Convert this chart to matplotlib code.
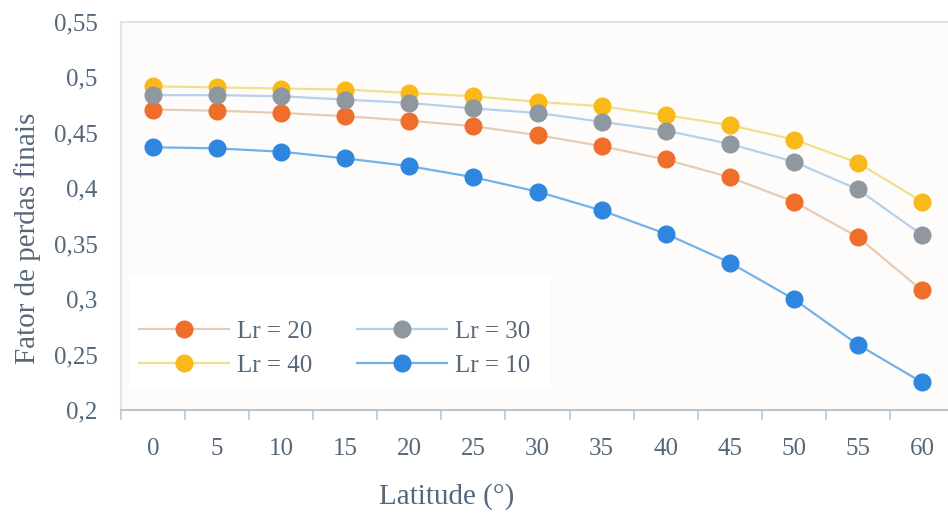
import numpy as np
import matplotlib.pyplot as plt
from matplotlib.patches import Rectangle

# latitude categories and loss factor series for each Lr
latitudes = ['0', '5', '10', '15', '20', '25', '30', '35', '40', '45', '50', '55', '60']
lr10 = [0.437, 0.436, 0.433, 0.427, 0.420, 0.410, 0.397, 0.380, 0.359, 0.333, 0.300, 0.259, 0.225]
lr20 = [0.471, 0.470, 0.468, 0.465, 0.461, 0.456, 0.448, 0.438, 0.426, 0.410, 0.388, 0.356, 0.308]
lr30 = [0.484, 0.484, 0.483, 0.480, 0.477, 0.472, 0.468, 0.460, 0.452, 0.440, 0.424, 0.399, 0.358]
lr40 = [0.492, 0.491, 0.490, 0.489, 0.486, 0.483, 0.478, 0.474, 0.466, 0.457, 0.444, 0.423, 0.388]

txt = '#55677a'
serif = ['Liberation Serif', 'DejaVu Serif']
plt.rcParams['font.family'] = serif

fig = plt.figure(figsize=(9.48, 5.16), dpi=100)
ax = fig.add_axes([121 / 948, 1 - 410 / 516, 833 / 948, 388 / 516])
ax.set_facecolor('#fefcfb')

x = np.arange(len(latitudes))
series = [
    ('Lr = 20', lr20, '#ee6e2a', '#e6cbb5'),
    ('Lr = 40', lr40, '#f9b919', '#eee08c'),
    ('Lr = 30', lr30, '#8f979f', '#b5d0ea'),
    ('Lr = 10', lr10, '#2e86de', '#72b2ea'),
]
for name, vals, mc, lc in series:
    ax.plot(x, vals, color=lc, lw=1.6, marker='o', ms=12,
            markerfacecolor=mc, markeredgecolor=mc, label=name)

ax.set_xlim(-0.5, len(latitudes) - 0.5)
ax.set_ylim(0.2, 0.55)
ax.set_xticks(x)
ax.set_xticklabels(latitudes)
ax.set_xticks(np.arange(len(latitudes) + 1) - 0.5, minor=True)
yt = np.arange(0.2, 0.5501, 0.05)
ax.set_yticks(yt)
ax.set_yticklabels(['0,2', '0,25', '0,3', '0,35', '0,4', '0,45', '0,5', '0,55'])
ax.tick_params(axis='y', length=0, labelsize=18, labelcolor=txt, pad=17)
ax.tick_params(axis='x', which='major', length=0, labelsize=18, labelcolor=txt, pad=20)
ax.tick_params(axis='x', which='minor', length=7, color='#b9c6d2', width=1.2)

for s in ['top', 'left', 'right']:
    ax.spines[s].set_color('#dde4ea')
    ax.spines[s].set_linewidth(1.5)
ax.spines['bottom'].set_color('#b9c6d2')
ax.spines['bottom'].set_linewidth(1.5)

fig.text(28 / 948, 1 - 238 / 516, 'Fator de perdas finais', fontsize=21,
         color=txt, family=serif, rotation=90, ha='center', va='center')
fig.text(447 / 948, 1 - 497 / 516, 'Latitude (°)', fontsize=21, color=txt,
         family=serif, ha='center', va='center')

# white panel behind the legend
ax.add_patch(Rectangle((0.011, 0.059), 0.504, 0.284, transform=ax.transAxes,
                       facecolor='white', edgecolor='none', zorder=1.5))
leg = ax.legend(ncol=2, loc='lower left', bbox_to_anchor=(0.01, 0.06),
                frameon=False, fontsize=18, handlelength=3.6, handletextpad=0.3,
                columnspacing=1.8, labelspacing=0.45, borderaxespad=0)
for t in leg.get_texts():
    t.set_color(txt)
leg.set_zorder(3)

fig.savefig('out.png', dpi=100, facecolor='white')
